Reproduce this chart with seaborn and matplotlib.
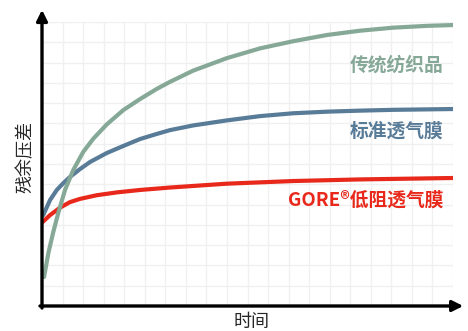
import numpy as np
import pandas as pd
import matplotlib.pyplot as plt
import seaborn as sns

# Data (grid units)
x_green = [0.1, 0.31, 0.55, 0.79, 1.12, 1.52, 2.01, 2.5, 3.15, 3.96, 4.77, 5.58, 6.23, 7.35, 9.0,
           10.61, 12.21, 13.87, 15.47, 17.08, 18.73, 20]
y_green = [1.43, 2.61, 3.65, 4.58, 5.72, 6.7, 7.6, 8.25, 8.95, 9.66, 10.2, 10.7, 11.05, 11.6, 12.22,
           12.7, 13.05, 13.36, 13.57, 13.72, 13.81, 13.85]

x_blue = [0.06, 0.39, 0.72, 1.04, 1.36, 1.85, 2.34, 3.15, 3.96, 4.77, 5.58, 6.23, 7.35, 9.0,
          10.61, 12.21, 13.87, 15.47, 17.08, 20]
y_blue = [4.48, 5.22, 5.72, 6.06, 6.36, 6.75, 7.1, 7.54, 7.89, 8.23, 8.48, 8.67, 8.9, 9.15,
          9.36, 9.5, 9.58, 9.63, 9.67, 9.71]

x_red = [0.03, 0.39, 0.88, 1.36, 1.85, 2.66, 3.64, 4.77, 6.23, 9.0, 12.21, 15.47, 20]
y_red = [4.14, 4.48, 4.85, 5.12, 5.28, 5.46, 5.6, 5.72, 5.84, 6.03, 6.16, 6.24, 6.31]

labels = ["传统纺织品", "标准透气膜", "GORE®低阻透气膜"]
colors = ["#86a897", "#587b98", "#e8281a"]
label_y = [11.9, 8.6, 5.2]

# Plot
sns.set_style("white")
plt.rcParams['font.family'] = ['Noto Sans CJK SC', 'DejaVu Sans']

fig = plt.figure(figsize=(4.68, 3.31), dpi=100)
ax = fig.add_axes([42/468, 25/331, 411/468, 284/331])

for xs, ys, c in [(x_red, y_red, colors[2]), (x_blue, y_blue, colors[1]), (x_green, y_green, colors[0])]:
    sns.lineplot(x=xs, y=ys, color=c, linewidth=3, ax=ax, zorder=3)
for line in ax.lines:
    line.set_solid_joinstyle('round')

for lab, ly, c in zip(labels, label_y, colors):
    ax.text(19.55, ly, lab, color=c, fontsize=13.5, fontweight='bold', ha='right', va='center')

# Decorations
ax.set_xlim(0, 20)
ax.set_ylim(0, 14)
ax.set_xticks(range(0, 21))
ax.set_yticks(range(0, 15))
ax.grid(True, color='#f0f0f0', linewidth=1)
ax.tick_params(length=0, labelbottom=False, labelleft=False)
for s in ax.spines.values():
    s.set_visible(False)

ax.annotate('', xy=(20.5, 0), xytext=(-0.1, 0), annotation_clip=False,
            arrowprops=dict(arrowstyle='-|>', lw=2.4, color='black', mutation_scale=16, shrinkA=0, shrinkB=0))
ax.annotate('', xy=(0, 14.6), xytext=(0, -0.1), annotation_clip=False,
            arrowprops=dict(arrowstyle='-|>', lw=2.4, color='black', mutation_scale=16, shrinkA=0, shrinkB=0))

fig.text(252/468, 1 - 322/331, "时间", fontsize=13, ha='center', va='center')
fig.text(26/468, 1 - 157/331, "残余压差", fontsize=13, ha='center', va='center', rotation=90)

fig.savefig("out.png", dpi=100)
